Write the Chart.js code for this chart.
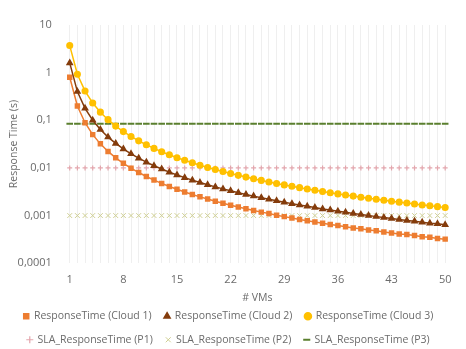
<!DOCTYPE html>
<html lang="en">
<head>
  <meta charset="UTF-8">
  <title>Response Time vs VMs</title>
  <script src="https://cdn.jsdelivr.net/npm/chart.js"></script>
</head>
<style>
  body {
    margin: 0;
    padding: 0;
    background: #fff;
  }

  .wrap {
    width: 466px;
    height: 349px;
    position: relative;
  }
</style>

<body>
<div class="wrap">
  <canvas id="rtChart"></canvas>
</div>

<script>
  // # VMs
  const vms = [1, 2, 3, 4, 5, 6, 7, 8, 9, 10, 11, 12, 13, 14, 15, 16, 17, 18, 19, 20,
    21, 22, 23, 24, 25, 26, 27, 28, 29, 30, 31, 32, 33, 34, 35, 36, 37, 38, 39, 40,
    41, 42, 43, 44, 45, 46, 47, 48, 49, 50];

  const cloud1 = [0.8, 0.2, 0.0889, 0.05, 0.032, 0.0222, 0.0163, 0.0125, 0.00988, 0.008,
    0.00661, 0.00556, 0.00473, 0.00408, 0.00356, 0.00313, 0.00277, 0.00247, 0.00222, 0.002,
    0.00181, 0.00165, 0.00151, 0.00139, 0.00128, 0.00118, 0.0011, 0.00102, 0.00095, 0.00089,
    0.00083, 0.00078, 0.00073, 0.00069, 0.00065, 0.00062, 0.00058, 0.00055, 0.00053, 0.0005,
    0.00048, 0.00045, 0.00043, 0.00041, 0.0004, 0.00038, 0.00036, 0.00035, 0.00033, 0.00032];

  const cloud2 = [1.6, 0.4, 0.178, 0.1, 0.064, 0.0444, 0.0327, 0.025, 0.0198, 0.016,
    0.0132, 0.0111, 0.00947, 0.00816, 0.00711, 0.00625, 0.00554, 0.00494, 0.00443, 0.004,
    0.00363, 0.00331, 0.00302, 0.00278, 0.00256, 0.00237, 0.00219, 0.00204, 0.0019, 0.00178,
    0.00166, 0.00156, 0.00147, 0.00138, 0.00131, 0.00123, 0.00117, 0.00111, 0.00105, 0.001,
    0.00095, 0.00091, 0.00087, 0.00083, 0.00079, 0.00076, 0.00072, 0.00069, 0.00067, 0.00064];

  const cloud3 = [3.7, 0.925, 0.411, 0.231, 0.148, 0.103, 0.0755, 0.0578, 0.0457, 0.037,
    0.0306, 0.0257, 0.0219, 0.0189, 0.0164, 0.0145, 0.0128, 0.0114, 0.0102, 0.00925,
    0.00839, 0.00764, 0.00699, 0.00642, 0.00592, 0.00547, 0.00508, 0.00472, 0.0044, 0.00411,
    0.00385, 0.00361, 0.0034, 0.0032, 0.00302, 0.00285, 0.0027, 0.00256, 0.00243, 0.00231,
    0.0022, 0.0021, 0.002, 0.00191, 0.00183, 0.00175, 0.00167, 0.00161, 0.00154, 0.00148];

  const slaP1 = [0.01, 0.01, 0.01, 0.01, 0.01, 0.01, 0.01, 0.01, 0.01, 0.01,
    0.01, 0.01, 0.01, 0.01, 0.01, 0.01, 0.01, 0.01, 0.01, 0.01,
    0.01, 0.01, 0.01, 0.01, 0.01, 0.01, 0.01, 0.01, 0.01, 0.01,
    0.01, 0.01, 0.01, 0.01, 0.01, 0.01, 0.01, 0.01, 0.01, 0.01,
    0.01, 0.01, 0.01, 0.01, 0.01, 0.01, 0.01, 0.01, 0.01, 0.01];

  const slaP2 = [0.001, 0.001, 0.001, 0.001, 0.001, 0.001, 0.001, 0.001, 0.001, 0.001,
    0.001, 0.001, 0.001, 0.001, 0.001, 0.001, 0.001, 0.001, 0.001, 0.001,
    0.001, 0.001, 0.001, 0.001, 0.001, 0.001, 0.001, 0.001, 0.001, 0.001,
    0.001, 0.001, 0.001, 0.001, 0.001, 0.001, 0.001, 0.001, 0.001, 0.001,
    0.001, 0.001, 0.001, 0.001, 0.001, 0.001, 0.001, 0.001, 0.001, 0.001];

  const slaP3 = [0.085, 0.085, 0.085, 0.085, 0.085, 0.085, 0.085, 0.085, 0.085, 0.085,
    0.085, 0.085, 0.085, 0.085, 0.085, 0.085, 0.085, 0.085, 0.085, 0.085,
    0.085, 0.085, 0.085, 0.085, 0.085, 0.085, 0.085, 0.085, 0.085, 0.085,
    0.085, 0.085, 0.085, 0.085, 0.085, 0.085, 0.085, 0.085, 0.085, 0.085,
    0.085, 0.085, 0.085, 0.085, 0.085, 0.085, 0.085, 0.085, 0.085, 0.085];

  const yTicks = [0.0001, 0.001, 0.01, 0.1, 1, 10];
  const yTickLabels = ['0,0001', '0,001', '0,01', '0,1', '1', '10'];

  const txt = '#6b6b6b';
  Chart.defaults.font.family = '"Open Sans", "Liberation Sans", sans-serif';
  Chart.defaults.font.size = 10;
  Chart.defaults.color = txt;

  const ctx = document.getElementById('rtChart').getContext('2d');
  const rtChart = new Chart(ctx, {
    type: 'line',
    data: {
      labels: vms,
      datasets: [
        {
          label: 'ResponseTime (Cloud 1)',
          data: cloud1,
          borderColor: '#ED7D31',
          backgroundColor: '#ED7D31',
          borderWidth: 1.5,
          pointStyle: 'rect',
          pointRadius: 2.8,
          order: 3
        },
        {
          label: 'ResponseTime (Cloud 2)',
          data: cloud2,
          borderColor: '#843C0C',
          backgroundColor: '#843C0C',
          borderWidth: 1.5,
          pointStyle: 'triangle',
          pointRadius: 3,
          order: 2
        },
        {
          label: 'ResponseTime (Cloud 3)',
          data: cloud3,
          borderColor: '#FFC000',
          backgroundColor: '#FFC000',
          borderWidth: 1.5,
          pointStyle: 'circle',
          pointRadius: 2.8,
          order: 1
        },
        {
          label: 'SLA_ResponseTime (P1)',
          data: slaP1,
          borderColor: '#e3a6ad',
          backgroundColor: '#e3a6ad',
          showLine: false,
          pointStyle: 'cross',
          pointRadius: 2.5,
          pointBorderWidth: 1.2,
          order: 4
        },
        {
          label: 'SLA_ResponseTime (P2)',
          data: slaP2,
          borderColor: '#cfcf93',
          backgroundColor: '#cfcf93',
          showLine: false,
          pointStyle: 'crossRot',
          pointRadius: 3.4,
          pointBorderWidth: 1,
          order: 5
        },
        {
          label: 'SLA_ResponseTime (P3)',
          data: slaP3,
          borderColor: '#5a7f2e',
          backgroundColor: '#5a7f2e',
          showLine: false,
          pointStyle: 'line',
          pointRadius: 3.3,
          pointBorderWidth: 2,
          order: 6
        }
      ]
    },
    options: {
      responsive: true,
      maintainAspectRatio: false,
      animation: false,
      layout: {
        padding: { top: 25, right: 17, left: 8, bottom: -6 }
      },
      plugins: {
        tooltip: { enabled: false },
        legend: {
          position: 'bottom',
          labels: {
            usePointStyle: true,
            boxWidth: 5,
            boxHeight: 5,
            padding: 13,
            color: txt,
            font: { size: 10.5 },
            sort: (a, b) => a.datasetIndex - b.datasetIndex
          }
        }
      },
      scales: {
        x: {
          type: 'category',
          offset: true,
          border: { display: false },
          grid: { color: '#efefef', drawTicks: false },
          ticks: {
            autoSkip: false,
            maxRotation: 0,
            padding: 10,
            font: { size: 11 },
            callback: function (val, i) {
              return i % 7 === 0 ? vms[i] : '';
            }
          },
          title: { display: true, text: '# VMs', padding: { top: -5, bottom: -6 }, font: { size: 10.5 } }
        },
        y: {
          type: 'logarithmic',
          min: 0.0001,
          max: 10,
          border: { display: false },
          grid: { display: false },
          afterBuildTicks: function (axis) {
            axis.ticks = yTicks.map(v => ({ value: v }));
          },
          ticks: {
            padding: 6,
            font: { size: 11 },
            callback: function (val) {
              const i = yTicks.indexOf(val);
              return i >= 0 ? yTickLabels[i] : '';
            }
          },
          title: { display: true, text: 'Response Time (s)', padding: { top: 0, bottom: -9 }, font: { size: 10.5 } }
        }
      }
    }
  });
</script>

</body>
</html>
